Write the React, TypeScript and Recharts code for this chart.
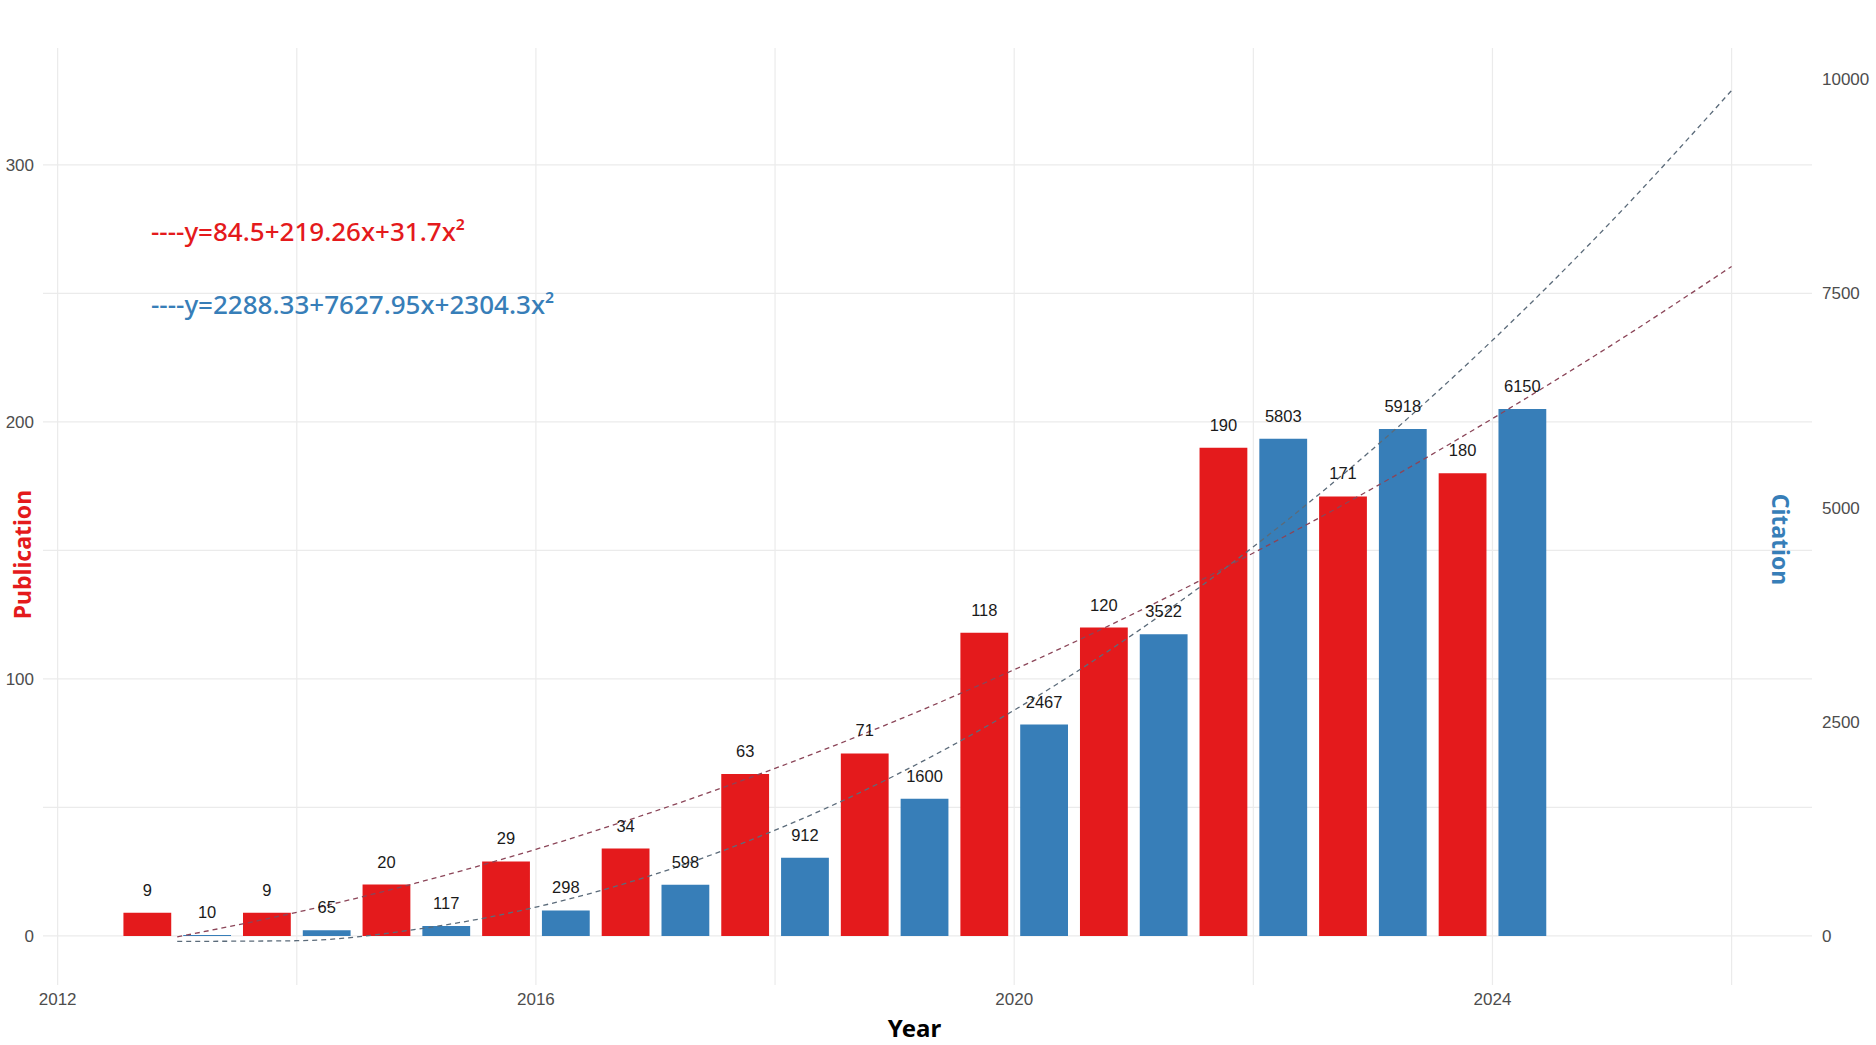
import React from 'react';
import {
    ComposedChart,
    Bar,
    Line,
    XAxis,
    YAxis,
    CartesianGrid,
    LabelList,
} from 'recharts';

// yearly counts
const years = [2013, 2014, 2015, 2016, 2017, 2018, 2019, 2020, 2021, 2022, 2023, 2024];
const publications = [9, 9, 20, 29, 34, 63, 71, 118, 120, 190, 171, 180];
const citations = [10, 65, 117, 298, 598, 912, 1600, 2467, 3522, 5803, 5918, 6150];

// fitted trend curves at each year
const trendYears = [2013, 2014, 2015, 2016, 2017, 2018, 2019, 2020, 2021, 2022, 2023, 2024, 2025, 2026];
const publicationTrend = [-0.4, 9.2, 20.6, 33.7, 48.6, 65.2, 83.5, 103.6, 125.4, 149.0, 174.2, 201.3, 230.0, 260.5];
const citationTrend = [-64, -56, 77, 336, 722, 1234, 1871, 2635, 3526, 4542, 5685, 6953, 8348, 9869];

// axis ticks and grid
const xTicks = [2012, 2016, 2020, 2024];
const xGrid = [2012, 2014, 2016, 2018, 2020, 2022, 2024, 2026];
const leftTicks = [0, 100, 200, 300];
const leftGrid = [0, 50, 100, 150, 200, 250, 300];
const rightTicks = [0, 2500, 5000, 7500, 10000];

const pubEquation = '----y=84.5+219.26x+31.7x²';
const citEquation = '----y=2288.33+7627.95x+2304.3x²';

const RED = '#e41a1c';
const BLUE = '#377eb8';
const GRID = '#ebebeb';
const AXIS_TEXT = '#4d4d4d';
const SANS = '"Liberation Sans", Arial, sans-serif';
const TITLE_FONT = '"Noto Sans", "Open Sans", sans-serif';

const barRows = years.map((year, i) => ({
    year,
    pub: publications[i],
    cit: citations[i],
}));

const trendRows = trendYears.map((year, i) => ({
    year,
    pubTrend: publicationTrend[i],
    citTrend: citationTrend[i],
}));

const X_DOMAIN: [number, number] = [2011.8775, 2026.6725];
const LEFT_DOMAIN: [number, number] = [-19.1, 345.5];
const RIGHT_DOMAIN: [number, number] = [LEFT_DOMAIN[0] * 30, LEFT_DOMAIN[1] * 30];

const tickStyle = { fontSize: 17, fill: AXIS_TEXT, fontFamily: SANS };
const valueStyle = { fontSize: 16.5, fill: '#1a1a1a', fontFamily: SANS };

const equationStyle: React.CSSProperties = {
    position: 'absolute',
    left: 151,
    fontFamily: TITLE_FONT,
    fontSize: 26,
    fontWeight: 500,
    lineHeight: '32px',
    whiteSpace: 'nowrap',
};

export default function App() {
    return (
        <div style={{ position: 'absolute', left: 0, top: 0, width: 1876, height: 1045, background: '#fff' }}>
            <ComposedChart
                width={1876}
                height={1045}
                data={barRows}
                margin={{ top: 48, right: 0, bottom: 0, left: 0 }}
                barGap={12}
            >
                <CartesianGrid
                    yAxisId="left"
                    stroke={GRID}
                    strokeWidth={1.2}
                    horizontalValues={leftGrid}
                    verticalValues={xGrid}
                />
                <XAxis
                    dataKey="year"
                    type="number"
                    domain={X_DOMAIN}
                    allowDataOverflow
                    ticks={xTicks}
                    axisLine={false}
                    tickLine={false}
                    height={60}
                    tick={tickStyle}
                    label={{
                        value: 'Year',
                        position: 'center',
                        dx: -13,
                        dy: 13,
                        style: { fontSize: 24, fontWeight: 700, fill: '#000', fontFamily: TITLE_FONT },
                    }}
                />
                <YAxis
                    yAxisId="left"
                    domain={LEFT_DOMAIN}
                    allowDataOverflow
                    ticks={leftTicks}
                    axisLine={false}
                    tickLine={false}
                    tickMargin={3}
                    width={43}
                    tick={tickStyle}
                    label={{
                        value: 'Publication',
                        angle: -90,
                        position: 'center',
                        dx: 1,
                        dy: 38,
                        style: { fontSize: 23, fontWeight: 700, fill: RED, fontFamily: TITLE_FONT },
                    }}
                />
                <YAxis
                    yAxisId="right"
                    orientation="right"
                    domain={RIGHT_DOMAIN}
                    allowDataOverflow
                    ticks={rightTicks}
                    axisLine={false}
                    tickLine={false}
                    tickMargin={4}
                    width={64}
                    tick={tickStyle}
                    label={{
                        value: 'Citation',
                        angle: 90,
                        position: 'center',
                        dx: -64,
                        dy: 23,
                        style: { fontSize: 23, fontWeight: 700, fill: BLUE, fontFamily: TITLE_FONT },
                    }}
                />

                <Bar dataKey="pub" yAxisId="left" fill={RED} barSize={47.8} isAnimationActive={false}>
                    <LabelList dataKey="pub" position="top" offset={17} style={valueStyle} />
                </Bar>
                <Bar dataKey="cit" yAxisId="right" fill={BLUE} barSize={47.8} isAnimationActive={false}>
                    <LabelList dataKey="cit" position="top" offset={17} style={valueStyle} />
                </Bar>

                <Line
                    data={trendRows}
                    dataKey="pubTrend"
                    yAxisId="left"
                    type="monotone"
                    stroke="#8b4558"
                    strokeWidth={1.3}
                    strokeDasharray="5 4"
                    dot={false}
                    activeDot={false}
                    isAnimationActive={false}
                />
                <Line
                    data={trendRows}
                    dataKey="citTrend"
                    yAxisId="right"
                    type="monotone"
                    stroke="#5b6b7a"
                    strokeWidth={1.3}
                    strokeDasharray="5 4"
                    dot={false}
                    activeDot={false}
                    isAnimationActive={false}
                />
            </ComposedChart>

            <div style={{ ...equationStyle, top: 215, color: RED }}>{pubEquation}</div>
            <div style={{ ...equationStyle, top: 288, color: BLUE }}>{citEquation}</div>
        </div>
    );
}
